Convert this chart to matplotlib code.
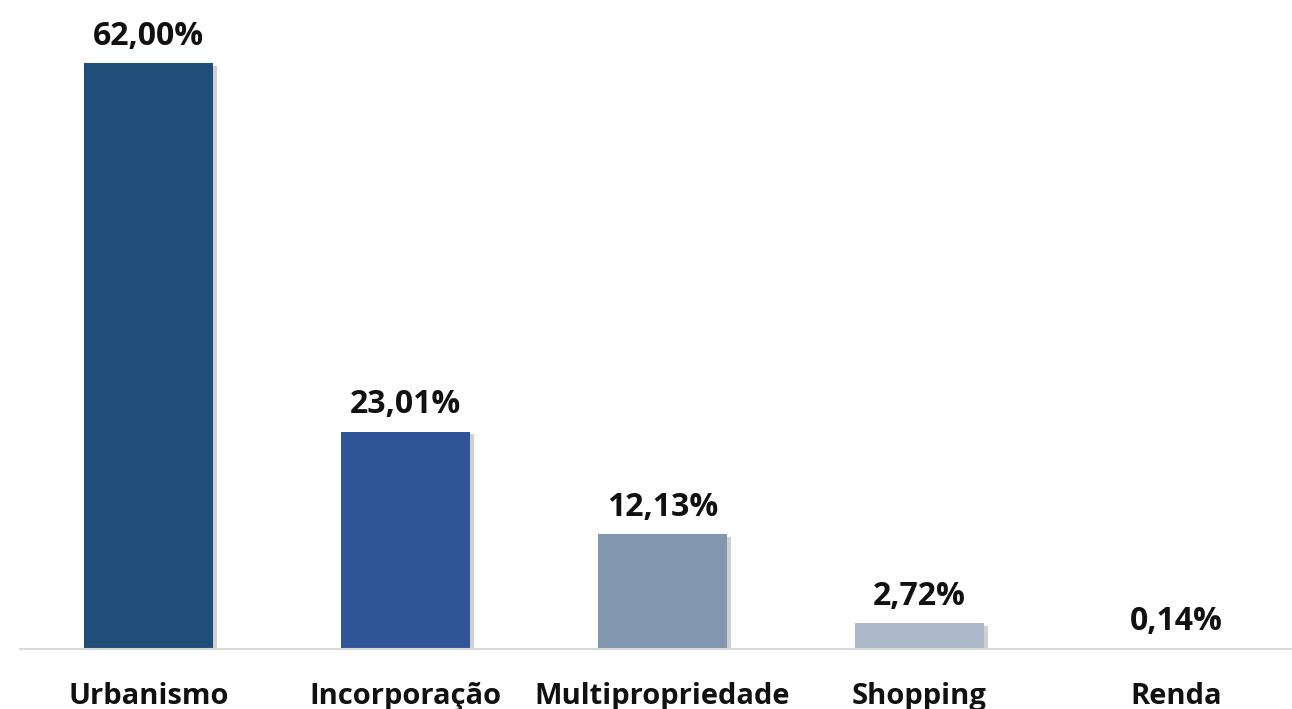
import numpy as np
import matplotlib.pyplot as plt
import matplotlib.patheffects as pe

categories = ["Urbanismo", "Incorporação", "Multipropriedade", "Shopping", "Renda"]
values = [62.00, 23.01, 12.13, 2.72, 0.14]
labels = ["62,00%", "23,01%", "12,13%", "2,72%", "0,14%"]
colors = ["#1F4E79", "#2F5597", "#8497B0", "#ADB9CA", "#D6DCE5"]

plt.rcParams['font.family'] = ['Open Sans', 'DejaVu Sans']

fig = plt.figure(figsize=(12.92, 7.09), dpi=100)
ax = fig.add_axes([20 / 1292, 60 / 709, 1 - 20 / 1292, 649 / 709])

x = np.arange(len(categories))
bars = ax.bar(x, values, width=0.5, color=colors, zorder=3)
for b in bars:
    b.set_path_effects([pe.SimplePatchShadow(offset=(3, -2), shadow_rgbFace='#666666', alpha=0.3),
                        pe.Normal()])

for xi, v, lab in zip(x, values, labels):
    ax.annotate(lab, (xi, v), xytext=(0, 13), textcoords='offset points',
                ha='center', va='baseline', fontsize=23, fontweight='bold', color='#111111')

for xi, cat in zip(x, categories):
    ax.text(xi, -0.084, cat, transform=ax.get_xaxis_transform(), ha='center', va='baseline',
            fontsize=21, fontweight='bold', color='#111111', clip_on=False)

ax.set_xlim(-0.5, (1292 - 148.5) / 257)
ax.set_ylim(0, 649 / 9.45)
for s in ['top', 'right', 'left']:
    ax.spines[s].set_visible(False)
ax.spines['bottom'].set_color('#D9D9D9')
ax.spines['bottom'].set_linewidth(1.5)
ax.spines['bottom'].set_zorder(4)
ax.set_xticks([])
ax.set_yticks([])

fig.savefig('out.png', dpi=100)
